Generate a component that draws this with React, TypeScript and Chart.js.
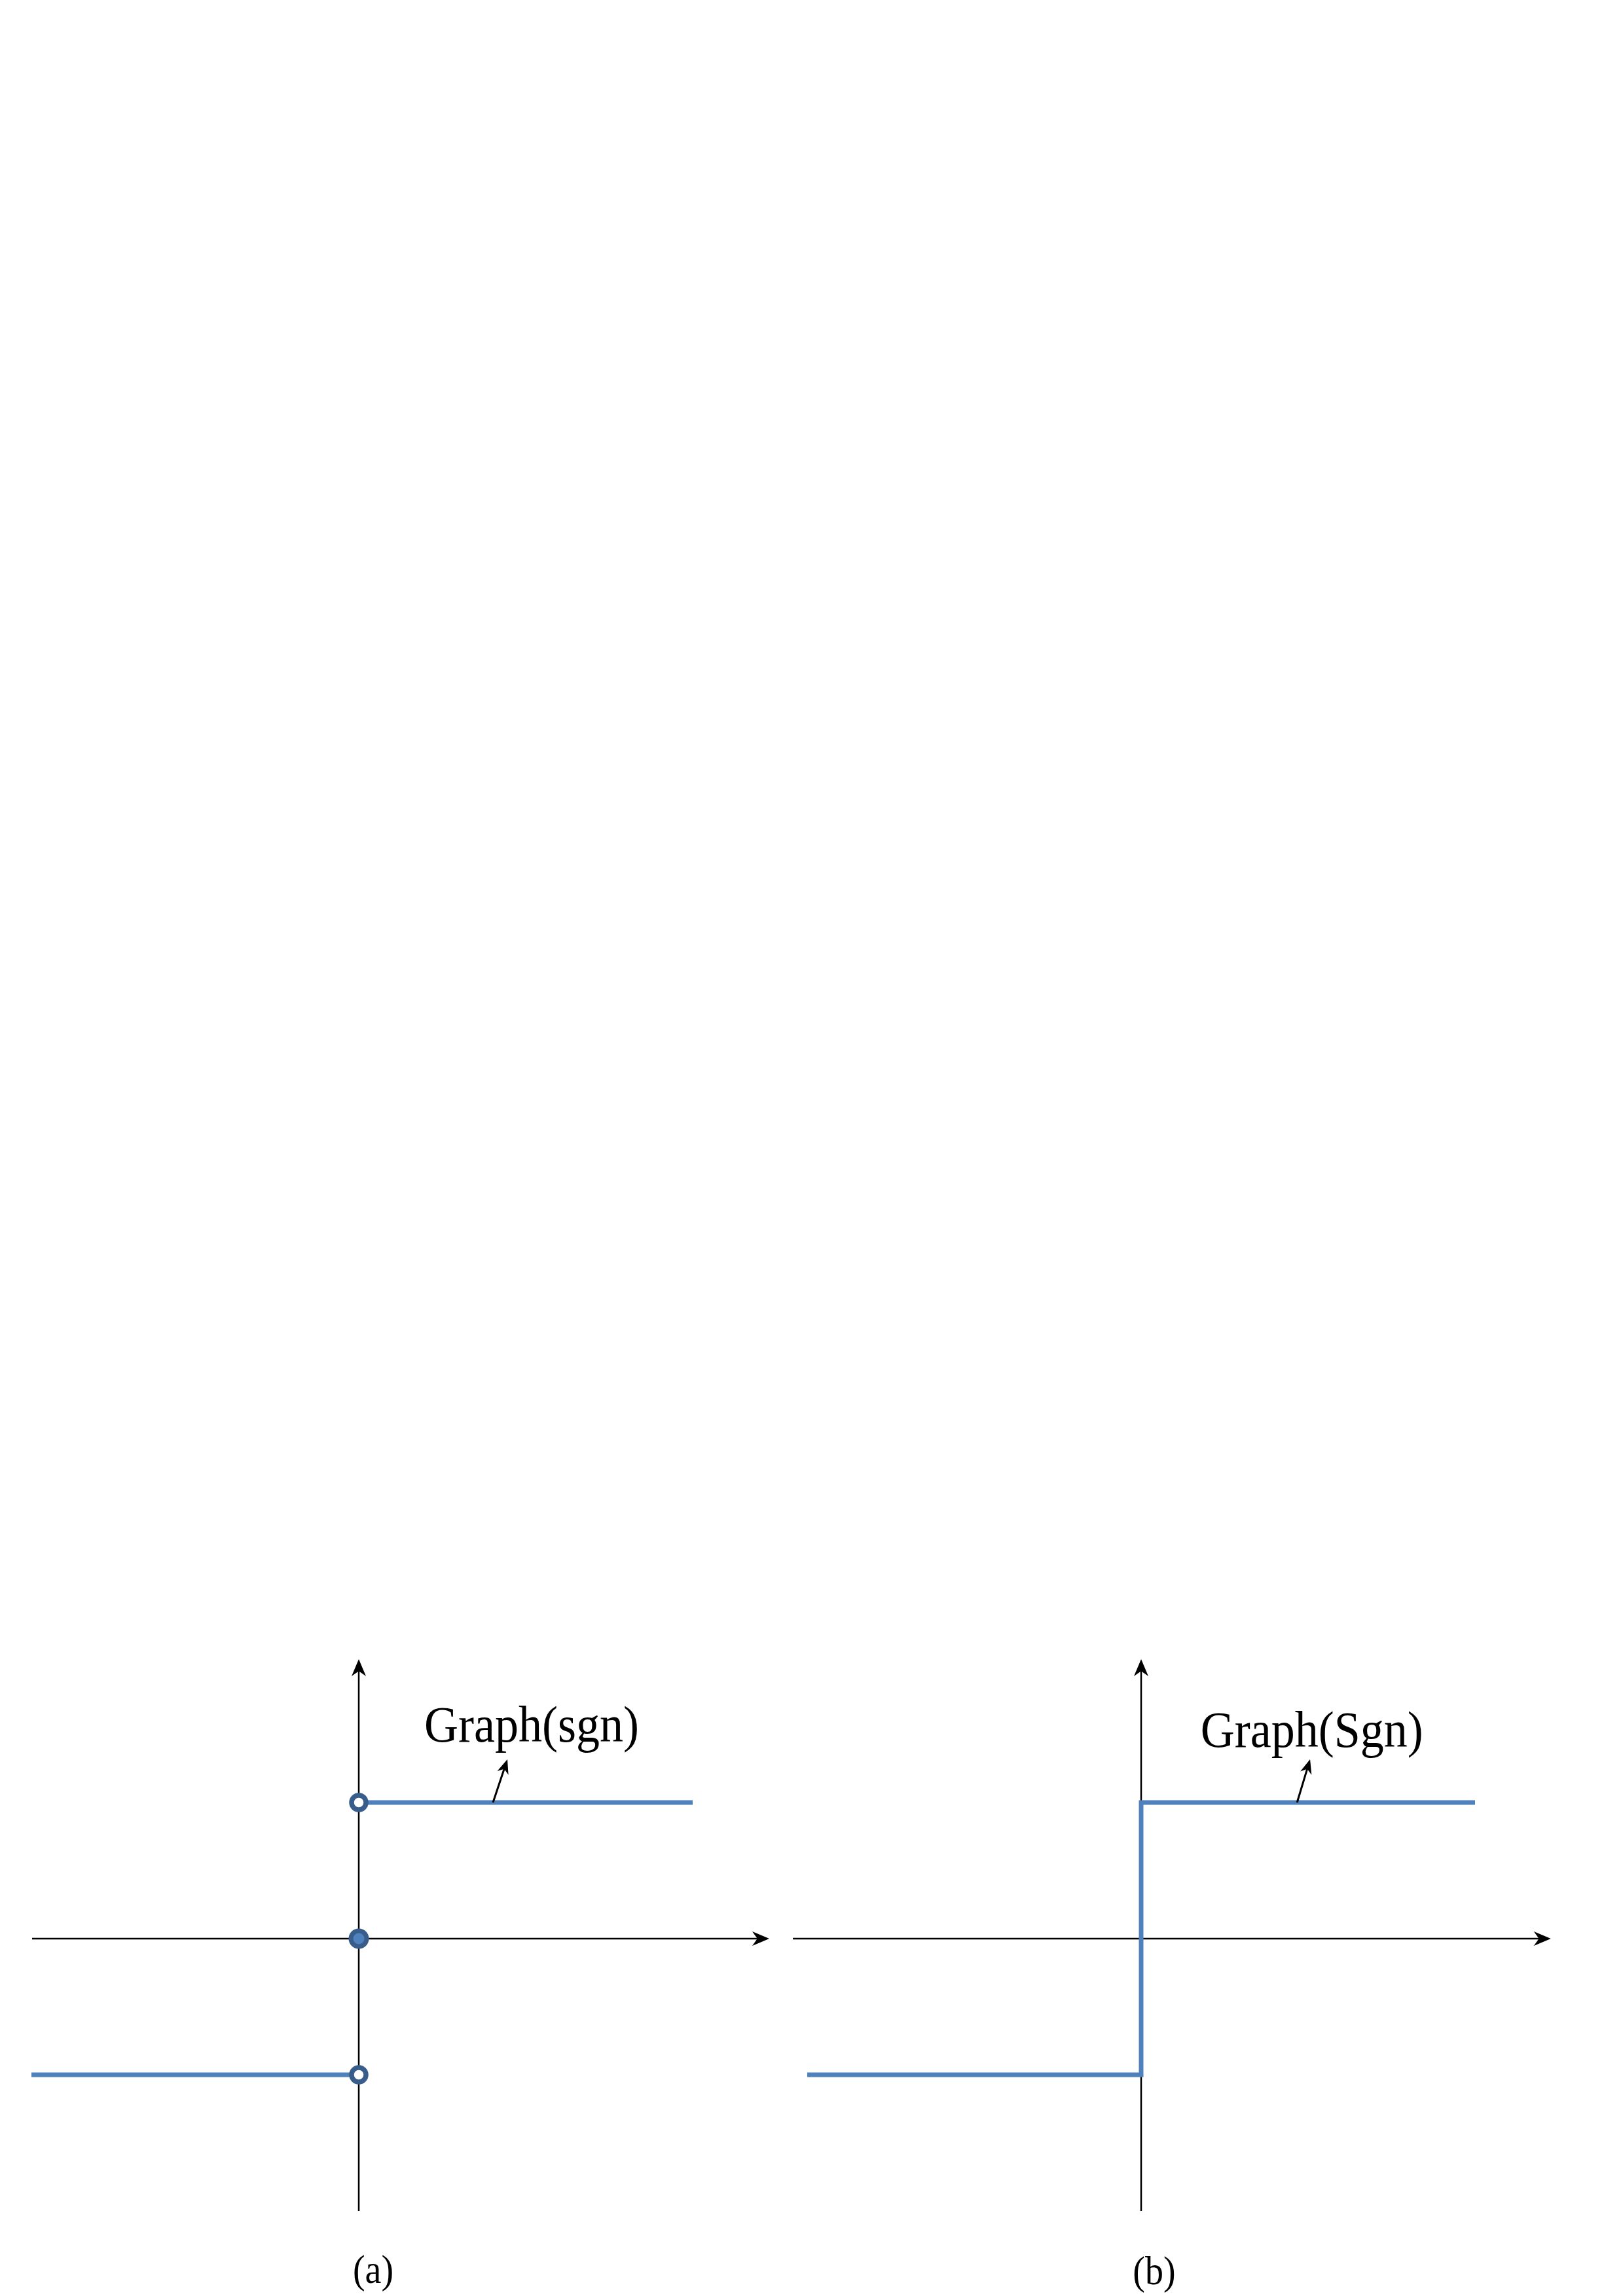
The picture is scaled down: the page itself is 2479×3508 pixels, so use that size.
import React, { useEffect, useRef } from "react";
import { Chart, registerables } from "chart.js";

Chart.register(...registerables);

// ---------- data ----------
// Panel (a): the signum function sgn
const SGN_NEG_X = [-1.0, 0];
const SGN_NEG_Y = [-1, -1];
const SGN_POS_X = [0, 1.02];
const SGN_POS_Y = [1, 1];
const SGN_OPEN_X = [0, 0];
const SGN_OPEN_Y = [1, -1];
const SGN_FILLED_X = [0];
const SGN_FILLED_Y = [0];
// Panel (b): the set-valued signum Sgn
const SGNSET_X = [-1.0, 0, 0, 1.0];
const SGNSET_Y = [-1, -1, 1, 1];
// Texts
const LABEL_A = "Graph(sgn)";
const LABEL_B = "Graph(Sgn)";
const CAPTION_A = "(a)";
const CAPTION_B = "(b)";

const LINE_BLUE = "#4f81bd";
const DARK_BLUE = "#385d8a";
const SERIF = "'Liberation Serif', 'Times New Roman', 'DejaVu Serif', serif";

type Pt = { x: number; y: number };
const zip = (xs: number[], ys: number[]): Pt[] => xs.map((x, i) => ({ x, y: ys[i] }));

function drawArrowHead(ctx: CanvasRenderingContext2D, x: number, y: number, ang: number, len: number, half: number) {
  ctx.save();
  ctx.translate(x, y);
  ctx.rotate(ang);
  ctx.beginPath();
  ctx.moveTo(0, 0);
  ctx.lineTo(-len, -half);
  ctx.lineTo(-len * 0.7, 0);
  ctx.lineTo(-len, half);
  ctx.closePath();
  ctx.fillStyle = "#000";
  ctx.fill();
  ctx.restore();
}

function tallText(ctx: CanvasRenderingContext2D, text: string, x: number, y: number, stretch: number) {
  ctx.save();
  ctx.translate(x, y);
  ctx.scale(1, stretch);
  ctx.fillText(text, 0, 0);
  ctx.restore();
}

const axesPlugin = {
  id: "mathAxes",
  beforeDatasetsDraw(chart: any, _args: any, opts: any) {
    const { ctx, scales } = chart;
    const xs = scales.x, ys = scales.y;
    const x0 = xs.getPixelForValue(0), y0 = ys.getPixelForValue(0);
    const xl = xs.getPixelForValue(opts.xFrom), xr = xs.getPixelForValue(opts.xTo);
    const yb = ys.getPixelForValue(opts.yFrom), yt = ys.getPixelForValue(opts.yTo);
    ctx.save();
    ctx.strokeStyle = "#000";
    ctx.lineWidth = 2.5;
    ctx.beginPath();
    ctx.moveTo(xl, y0);
    ctx.lineTo(xr - 10, y0);
    ctx.moveTo(x0, yb);
    ctx.lineTo(x0, yt + 10);
    ctx.stroke();
    drawArrowHead(ctx, xr, y0, 0, 26, 11);
    drawArrowHead(ctx, x0, yt, -Math.PI / 2, 26, 11);
    ctx.restore();
  },
  afterDatasetsDraw(chart: any, _args: any, opts: any) {
    const { ctx, scales } = chart;
    const xs = scales.x, ys = scales.y;
    ctx.save();
    // pointer arrow
    const ax1 = xs.getPixelForValue(opts.arrowFrom[0]);
    const ay1 = ys.getPixelForValue(opts.arrowFrom[1]);
    const ax2 = xs.getPixelForValue(opts.arrowTo[0]);
    const ay2 = ys.getPixelForValue(opts.arrowTo[1]);
    const ang = Math.atan2(ay2 - ay1, ax2 - ax1);
    ctx.strokeStyle = "#000";
    ctx.lineWidth = 3;
    ctx.beginPath();
    ctx.moveTo(ax1, ay1);
    ctx.lineTo(ax2 - Math.cos(ang) * 10, ay2 - Math.sin(ang) * 10);
    ctx.stroke();
    drawArrowHead(ctx, ax2, ay2, ang, 22, 9);
    // label
    ctx.fillStyle = "#000";
    ctx.font = `72px ${SERIF}`;
    ctx.textAlign = "left";
    ctx.textBaseline = "alphabetic";
    tallText(ctx, opts.label, xs.getPixelForValue(opts.labelAt[0]), ys.getPixelForValue(opts.labelAt[1]), 1.08);
    // caption
    ctx.font = `56px ${SERIF}`;
    ctx.textAlign = "center";
    tallText(ctx, opts.caption, xs.getPixelForValue(opts.captionAt[0]), ys.getPixelForValue(opts.captionAt[1]), 1.08);
    ctx.restore();
  },
};

type PanelProps = {
  left: number;
  top: number;
  width: number;
  height: number;
  datasets: any[];
  xMin: number;
  xMax: number;
  yMin: number;
  yMax: number;
  axes: any;
};

function Panel(p: PanelProps) {
  const ref = useRef<HTMLCanvasElement | null>(null);
  useEffect(() => {
    if (!ref.current) return;
    const chart = new Chart(ref.current, {
      type: "scatter",
      data: { datasets: p.datasets },
      options: {
        animation: false,
        responsive: false,
        maintainAspectRatio: false,
        devicePixelRatio: 1,
        layout: { padding: 0, autoPadding: false },
        scales: {
          x: { type: "linear", min: p.xMin, max: p.xMax, display: false },
          y: { type: "linear", min: p.yMin, max: p.yMax, display: false },
        },
        plugins: {
          legend: { display: false },
          tooltip: { enabled: false },
          mathAxes: p.axes,
        } as any,
      } as any,
      plugins: [axesPlugin],
    });
    return () => chart.destroy();
  }, []);
  return (
    <canvas
      ref={ref}
      width={p.width}
      height={p.height}
      style={{ position: "absolute", left: p.left, top: p.top, width: p.width, height: p.height }}
    />
  );
}

const lineDs = (data: Pt[]) => ({
  data,
  order: 5,
  showLine: true,
  borderColor: LINE_BLUE,
  borderWidth: 7,
  pointRadius: 0,
  borderJoinStyle: "miter",
  borderCapStyle: "butt",
  clip: false,
});

export default function App() {
  // vertical layout shared by both panels
  const top = 2480, height = 1028, zeroY = 2962, unitY = 208;
  const yMax = (zeroY - top) / unitY;
  const yMin = -(top + height - zeroY) / unitY;

  // panel (a)
  const aLeft = 0, aWidth = 1190, aZero = 548, aUnit = 500;
  const datasetsA = [
    lineDs(zip(SGN_NEG_X, SGN_NEG_Y)),
    lineDs(zip(SGN_POS_X, SGN_POS_Y)),
    {
      data: zip(SGN_OPEN_X, SGN_OPEN_Y),
      order: 1,
      showLine: false,
      pointRadius: 11,
      pointBorderWidth: 7.5,
      pointBackgroundColor: "#ffffff",
      pointBorderColor: DARK_BLUE,
      clip: false,
    },
    {
      data: zip(SGN_FILLED_X, SGN_FILLED_Y),
      order: 0,
      showLine: false,
      pointRadius: 12,
      pointBorderWidth: 7,
      pointBackgroundColor: LINE_BLUE,
      pointBorderColor: DARK_BLUE,
      clip: false,
    },
  ];

  // panel (b)
  const bLeft = 1190, bWidth = 1289, bZero = 1743, bUnit = 510;
  const datasetsB = [lineDs(zip(SGNSET_X, SGNSET_Y))];

  return (
    <div>
      <Panel
        left={aLeft}
        top={top}
        width={aWidth}
        height={height}
        datasets={datasetsA}
        xMin={(aLeft - aZero) / aUnit}
        xMax={(aLeft + aWidth - aZero) / aUnit}
        yMin={yMin}
        yMax={yMax}
        axes={{
          xFrom: -0.998,
          xTo: 1.254,
          yFrom: -2.0,
          yTo: 2.053,
          arrowFrom: [0.41, 1.0],
          arrowTo: [0.454, 1.317],
          label: LABEL_A,
          labelAt: [0.2, 1.447],
          caption: CAPTION_A,
          captionAt: [0.044, -2.53],
        }}
      />
      <Panel
        left={bLeft}
        top={top}
        width={bWidth}
        height={height}
        datasets={datasetsB}
        xMin={(bLeft - bZero) / bUnit}
        xMax={(bLeft + bWidth - bZero) / bUnit}
        yMin={yMin}
        yMax={yMax}
        axes={{
          xFrom: -1.043,
          xTo: 1.227,
          yFrom: -2.0,
          yTo: 2.053,
          arrowFrom: [0.467, 1.0],
          arrowTo: [0.506, 1.317],
          label: LABEL_B,
          labelAt: [0.178, 1.409],
          caption: CAPTION_B,
          captionAt: [0.039, -2.54],
        }}
      />
    </div>
  );
}
